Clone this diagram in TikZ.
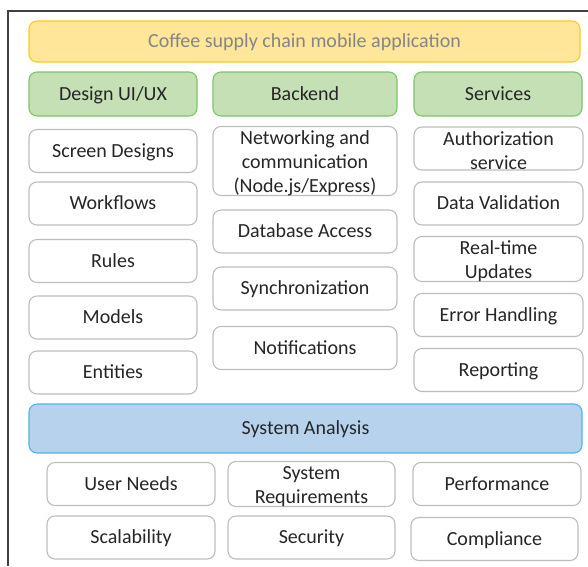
\documentclass[tikz,border=0pt]{standalone}
\usepackage{fontspec}
\setmainfont{Carlito}
\definecolor{txt}{HTML}{262626}
\definecolor{ttl}{HTML}{858585}
\definecolor{yfill}{HTML}{FFE699}
\definecolor{ydraw}{HTML}{FFC91F}
\definecolor{gfill}{HTML}{C5E0B4}
\definecolor{gdraw}{HTML}{7CC56A}
\definecolor{bfill}{HTML}{B6D2EC}
\definecolor{bdraw}{HTML}{4DB6E6}
\definecolor{wdraw}{HTML}{BDBDBD}
\definecolor{frame}{HTML}{404040}
\newcommand\mtop{\rule{0pt}{18pt}}
\begin{document}
\begin{tikzpicture}[x=1pt,y=-1pt,
  base/.style={rounded corners=8pt, line width=1.1pt, inner sep=0pt, align=center,
    font=\fontsize{20}{23.8}\selectfont, text=txt},
  one/.style={text height=12.8pt, text depth=0pt},
  wbox/.style={base, draw=wdraw, fill=white},
  gbox/.style={base, one, draw=gdraw, fill=gfill},
  ybox/.style={base, one, draw=ydraw, fill=yfill, text=ttl},
  bbox/.style={base, one, draw=bdraw, fill=bfill},
  lcol/.style={wbox, minimum width=168pt, minimum height=43pt},
  mcol/.style={wbox, minimum width=184pt, minimum height=43pt},
  rcol/.style={wbox, minimum width=169pt, minimum height=43pt},
  bcol/.style={wbox, minimum width=168pt, minimum height=43pt}
]
\useasboundingbox (0,0) rectangle (588,566);
\fill[white] (0,0) rectangle (588,566);
\draw[frame, line width=1.5pt] (8,566) coordinate (fb) -- (8,11) coordinate (fc) -- (588,11) coordinate (fr);

\node[ybox, minimum width=551pt, minimum height=41pt] (title) at (304.5,41.5) {Coffee supply chain mobile application};

\node[gbox, minimum width=168pt, minimum height=44pt] (design) at (113,94) {Design UI/UX};
\node[gbox, minimum width=184pt, minimum height=44pt] (backend) at (305,94) {Backend};
\node[gbox, minimum width=168pt, minimum height=44pt] (services) at (498,94) {Services};

\node[lcol, one] (screen) at (113,151) {Screen Designs};
\node[lcol, one] (workflows) at (113,203.5) {Workflows};
\node[lcol, one] (rules) at (113,261) {Rules};
\node[lcol, one] (models) at (113,317.5) {Models};
\node[lcol, one] (entities) at (113,372.5) {Entities};

\node[mcol, minimum height=68pt] (net) at (305,161) {\mtop Networking and\\communication\\(Node.js/Express)};
\node[mcol, one] (db) at (305,231.5) {Database Access};
\node[mcol, one] (sync) at (305,288.5) {Synchronization};
\node[mcol, one] (notif) at (305,348) {Notifications};

\node[rcol] (auth) at (498.5,148.5) {\mtop Authorization\\service};
\node[rcol, one] (valid) at (498.5,203.5) {Data Validation};
\node[rcol] (rt) at (498.5,259) {\mtop Real-time\\Updates};
\node[rcol, one] (err) at (498.5,315) {Error Handling};
\node[rcol, one] (rep) at (498.5,370) {Reporting};

\node[bbox, minimum width=553pt, minimum height=49pt] (sa) at (305.5,428.5) {System Analysis};

\node[bcol, one] (user) at (131,484) {User Needs};
\node[bcol, minimum width=167pt] (sysreq) at (311.5,484) {\mtop System\\Requirements};
\node[bcol, one] (perf) at (497,484) {Performance};
\node[bcol, one] (scal) at (131,537.5) {Scalability};
\node[bcol, one, minimum width=167pt] (sec) at (311.5,537.5) {Security};
\node[bcol, one, minimum width=167pt] (comp) at (494.5,539) {Compliance};
\end{tikzpicture}
\end{document}
